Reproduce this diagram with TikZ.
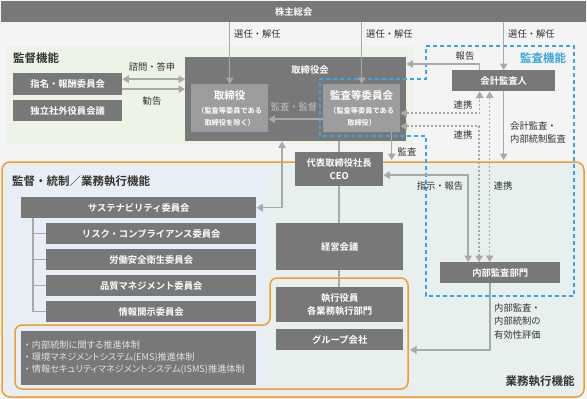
\documentclass[tikz,border=0pt]{standalone}
\usepackage{fontspec}
\setmainfont{Noto Sans CJK JP}[BoldFont={Noto Sans CJK JP Bold}]
\newfontfamily\paltfam{Noto Sans CJK JP}[RawFeature=+palt]
\usetikzlibrary{arrows.meta}
\definecolor{bgc}{HTML}{F4F4F4}
\definecolor{boxc}{HTML}{787878}
\definecolor{innerc}{HTML}{9D9D9D}
\definecolor{arrc}{HTML}{A9A9A9}
\definecolor{greenc}{HTML}{EDF4E7}
\definecolor{bluep}{HTML}{E8EEF5}
\definecolor{tealc}{HTML}{E8F0EF}
\definecolor{orc}{HTML}{F29B30}
\definecolor{bluec}{HTML}{3AA6DE}
\definecolor{txtc}{HTML}{333333}
\definecolor{softc}{HTML}{C2C2C2}
\definecolor{bultc}{HTML}{E2E2E2}
\newcommand\fsz[2]{\fontsize{#1}{#2}\selectfont}
\newcommand\bx[7][box]{\node[#1, minimum width={(#5)-(#3)}, minimum height={(#6)-(#4)}] (#2) at (#3,#4) {#7};}
\newcommand\bul{{\fontfamily{\familydefault}\selectfont ・}}
\tikzset{
  box/.style={fill=boxc, text=white, font=\fsz{9.3}{12.5}\bfseries, inner sep=0pt, anchor=north west, align=center},
  ibox/.style={fill=innerc, text=white, font=\fsz{9}{12}, inner sep=0pt, anchor=north west, align=center},
  lab/.style={text=txtc, font=\fsz{9.3}{13.5}, inner sep=0pt, align=left},
  ttl/.style={text=txtc, font=\fsz{11.5}{14}\bfseries, inner sep=0pt},
  tip/.tip={Triangle[length=6.5pt,width=7.5pt]},
  arr/.style={draw=arrc, line width=1.5pt, -tip},
  darr/.style={draw=arrc, line width=1.5pt, tip-tip},
  dots/.style={dash pattern=on 2pt off 2pt},
  ln/.style={draw=arrc, line width=1.5pt}
}
\begin{document}
\begin{tikzpicture}[x=1pt,y=-1pt]
\useasboundingbox (0,0) rectangle (587,399);
\fill[bgc] (0,0) rectangle (587,399);
% regions
\fill[greenc] (7,46) rectangle (413,145);
\draw[orc, line width=1.5pt, fill=tealc, rounded corners=8pt] (2,162) rectangle (584,397);
\fill[bluep] (8,166) rectangle (266,392);
% boxes
\bx{kabu}{1}{1}{586}{22}{株主総会}
\bx{shimei}{13}{73}{122}{95}{指名・報酬委員会}
\bx{doku}{13}{100}{122}{121}{独立社外役員会議}
\bx{torikai}{185}{57}{406}{141}{}
\node[box, anchor=center, fill=none] (torikaiT) at (310,70) {取締役会};
\bx[ibox]{tori}{191}{84}{268}{132}{{\bfseries\fsz{10.5}{13}取締役}\\[2pt]{\bfseries\fsz{7.2}{11}（監査等委員である}\\{\bfseries\fsz{7.2}{11}取締役を除く）}}
\bx[ibox]{kansa}{323}{84}{400}{132}{{\bfseries\fsz{10.5}{13}監査等委員会}\\[2pt]{\bfseries\fsz{7.2}{11}（監査等委員である}\\{\bfseries\fsz{7.2}{11}取締役）}}
\bx{kaikei}{452}{70}{555}{91}{会計監査人}
\bx{ceo}{295}{152}{383}{186}{代表取締役社長\\CEO}
\bx{keiei}{276}{223}{403}{270}{経営会議}
\bx{shikko}{276}{287}{403}{322}{執行役員\\各業務執行部門}
\bx{group}{276}{329}{403}{350}{グループ会社}
\bx{naibu}{440}{262}{560}{283}{内部監査部門}
\bx{sus}{21}{197}{256}{218}{サステナビリティ委員会}
\bx{risk}{46}{223}{256}{244}{リスク・コンプライアンス委員会}
\bx{rodo}{46}{249}{256}{270}{労働安全衛生委員会}
\bx{hin}{46}{275}{256}{296}{品質マネジメント委員会}
\bx{joho}{46}{301}{256}{322}{情報開示委員会}
\bx{bul}{21}{331}{256}{385}{}
\node[anchor=west, inner sep=0pt, text=bultc, font=\fsz{9.2}{12}\paltfam, align=left] (bultxt) at (22.5,358)
  {\bul 内部統制に関する推進体制\\\bul 環境マネジメントシステム(EMS)推進体制\\\bul 情報セキュリティマネジメントシステム(ISMS)推進体制};
% orange inner frame
\draw[orc, line width=1.5pt, rounded corners=7pt] (15,325) -- (270,325) -- (270,278) -- (408,278) -- (408,389) -- (15,389) -- cycle;
% blue dashed audit frame
\draw[bluec, line width=1.3pt, dash pattern=on 4pt off 3pt] (426,46) -- (574,46) -- (574,296) -- (426,296) -- (426,136) -- (320,136) -- (320,79) -- (426,79) -- cycle;
% coordinates
\coordinate (trx) at (33,0);
\coordinate (sx) at (282,0);
\coordinate (hokoku) at (0,64);
\coordinate (kk) at (0,160);
\coordinate (ofr) at (410,350);
% connectors
\draw[arr] (tori.north |- kabu.south) -- (tori.north);
\draw[arr] (kansa.north |- kabu.south) -- (kansa.north);
\draw[arr] (kaikei.north |- kabu.south) -- (kaikei.north);
\draw[darr] ([yshift=5pt]shimei.east) -- ([yshift=5pt]shimei.east -| torikai.west);
\draw[arr] ([yshift=-5pt]shimei.east) -- ([yshift=-5pt]shimei.east -| torikai.west);
\draw[arr] ([yshift=-11pt]kansa.west) -- ([yshift=-11pt]kansa.west -| tori.east);
\draw[arr] ([xshift=-24pt]kaikei.north) |- (hokoku -| torikai.east);
\draw[darr, dots] ([yshift=-5pt]kansa.east) -| ([xshift=-24pt]kaikei.south);
\draw[darr, dots] ([yshift=-18pt]kansa.east) -| ([xshift=-21pt]naibu.north);
\draw[darr, dots] ([xshift=-14pt]kaikei.south) -- ([xshift=-14pt]kaikei.south |- naibu.north);
\draw[arr] (kaikei.south) -- (kaikei.south |- kk);
\draw[arr] ([xshift=30pt]kansa.south) -- ([xshift=30pt]kansa.south |- kk);
\draw[ln] (ceo.north |- torikai.south) -- (ceo.north);
\draw[ln] (ceo.south) -- (ceo.south |- keiei.north);
\draw[ln] (ceo.south |- keiei.south) -- (ceo.south |- shikko.north);
\draw[darr] (sx |- torikai.south) |- (sus.east);
\draw[darr] ([yshift=-6pt]ceo.east) -| ([xshift=-32pt]naibu.north);
\draw[arr] ([xshift=-10pt]naibu.south) |- (ofr);
\draw[ln] (trx |- sus.south) |- (risk.west);
\draw[ln] (trx |- sus.south) |- (rodo.west);
\draw[ln] (trx |- sus.south) |- (hin.west);
\draw[ln] (trx |- sus.south) |- (joho.west);
% labels
\node[ttl, anchor=west] (tKantoku) at (13,58) {監督機能};
\node[ttl, anchor=west] (tKantoku2) at (12,181) {監督・統制／業務執行機能};
\node[ttl] (tGyomu) at (540,381) {業務執行機能};
\node[ttl, text=bluec] (tKansa) at (543,58) {監査機能};
\node[lab, anchor=west] (l1) at (234,34) {選任・解任};
\node[lab, anchor=west] (l2) at (366,34) {選任・解任};
\node[lab, anchor=west] (l3) at (508,34) {選任・解任};
\node[lab] (l4) at (152,67) {諮問・答申};
\node[lab] (l5) at (152,101) {勧告};
\node[lab, text=softc] (l6) at (294,107) {監査・監督};
\node[lab] (l7) at (465,56) {報告};
\node[lab] (l8) at (463,105) {連携};
\node[lab] (l9) at (463,135) {連携};
\node[lab, anchor=north west] (l10) at (510,121) {会計監査・\\内部統制監査};
\node[lab] (l11) at (407,152) {監査};
\node[lab] (l12) at (440,186) {指示・報告};
\node[lab] (l13) at (503,186) {連携};
\node[lab, anchor=north west] (l14) at (494,303) {内部監査・\\内部統制の\\有効性評価};
\end{tikzpicture}
\end{document}
